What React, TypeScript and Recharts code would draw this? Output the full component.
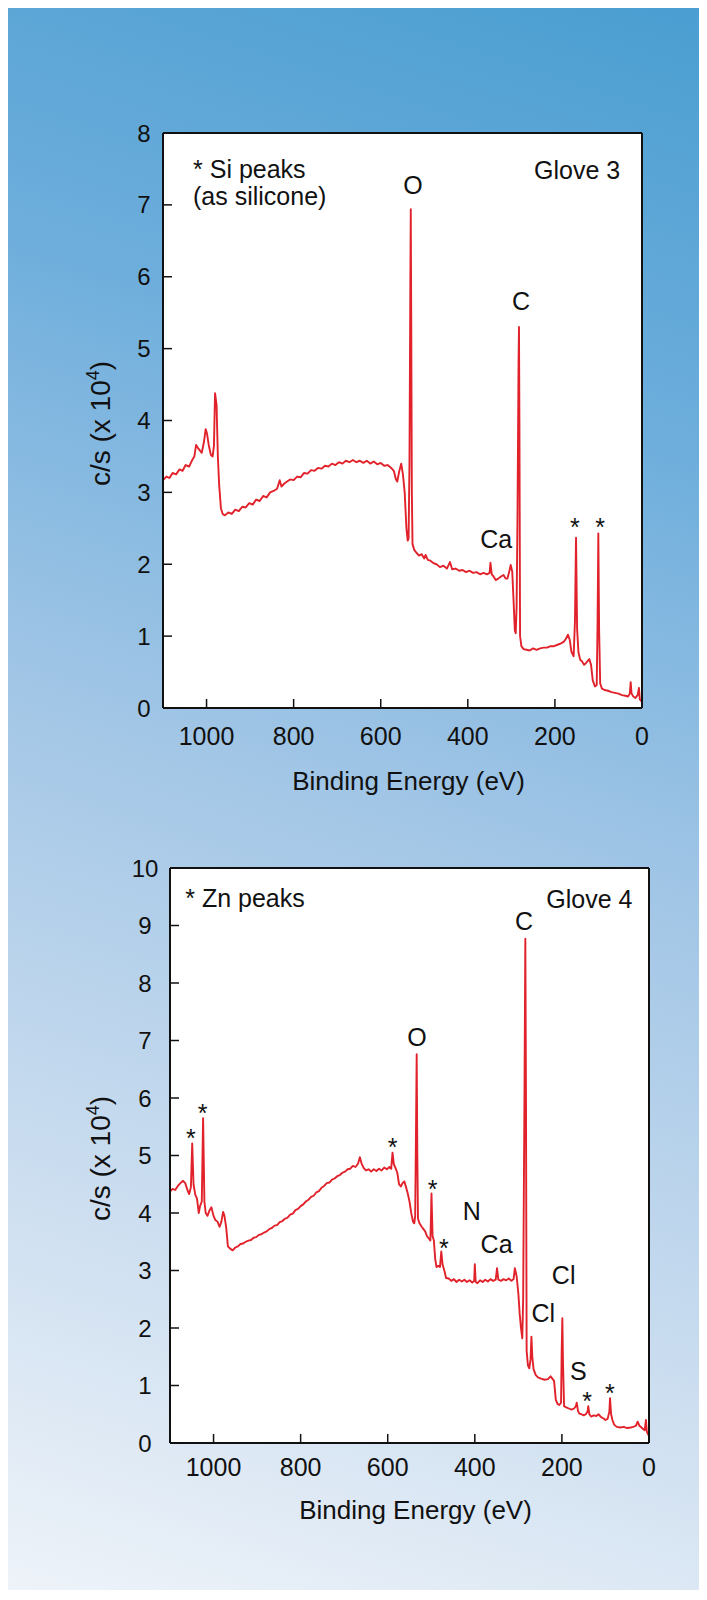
import React from "react";
import { CartesianGrid, Line, LineChart, ReferenceDot, XAxis, YAxis } from "recharts";

type Point = [number, number];
type Note = { text: string; e: number; v: number; anchor?: "start" | "middle" | "end" };

const FONT = '"Liberation Sans", Arial, Helvetica, sans-serif';
const INK = "#111";
const RED = "#e1222b";

const energyTicks = [0, 200, 400, 600, 800, 1000];
const glove3Ticks = [0, 1, 2, 3, 4, 5, 6, 7, 8];
const glove4Ticks = [0, 1, 2, 3, 4, 5, 6, 7, 8, 9, 10];

// [binding energy (eV), counts (x 10^4 c/s)]
const glove3Spectrum: Point[] = [
  [1100, 3.17], [1092, 3.22], [1085, 3.2], [1078, 3.27], [1070, 3.25], [1062, 3.32],
  [1055, 3.3], [1048, 3.38], [1040, 3.36], [1033, 3.45], [1028, 3.5], [1024, 3.66],
  [1020, 3.62], [1015, 3.58], [1011, 3.55], [1006, 3.7], [1002, 3.88], [999, 3.82],
  [995, 3.66], [990, 3.52], [986, 3.5], [983, 3.65], [980.5, 4.38], [977, 4.22],
  [974, 3.5], [971, 3.1], [967, 2.78], [963, 2.7], [958, 2.68], [950, 2.72],
  [942, 2.7], [934, 2.76], [926, 2.74], [918, 2.8], [910, 2.79], [902, 2.85],
  [894, 2.83], [886, 2.9], [878, 2.88], [870, 2.95], [862, 2.93], [854, 3.0],
  [846, 3.02], [838, 3.05], [832, 3.17], [828, 3.08], [822, 3.12], [815, 3.15],
  [808, 3.18], [800, 3.17], [792, 3.22], [784, 3.21], [776, 3.27], [768, 3.26],
  [760, 3.31], [752, 3.3], [744, 3.34], [736, 3.33], [728, 3.37], [720, 3.36],
  [712, 3.4], [704, 3.38], [696, 3.42], [688, 3.4], [680, 3.44], [672, 3.42],
  [664, 3.45], [656, 3.42], [648, 3.44], [640, 3.41], [632, 3.44], [624, 3.4],
  [616, 3.43], [608, 3.39], [600, 3.41], [592, 3.37], [584, 3.38], [576, 3.34],
  [570, 3.3], [565, 3.18], [562, 3.15], [558, 3.28], [553, 3.4], [549, 3.25],
  [545, 3.0], [541, 2.5], [538, 2.33], [536, 2.36], [534, 3.4], [532, 5.9],
  [531, 6.94], [530, 5.5], [528.5, 3.0], [527, 2.28], [523, 2.2], [518, 2.16],
  [512, 2.12], [506, 2.14], [500, 2.08], [497, 2.13], [492, 2.06], [486, 2.05],
  [480, 2.02], [472, 2.0], [464, 1.96], [456, 1.98], [448, 1.94], [441, 2.03],
  [436, 1.93], [428, 1.94], [420, 1.91], [412, 1.92], [404, 1.89], [396, 1.91],
  [388, 1.88], [380, 1.89], [372, 1.86], [364, 1.88], [356, 1.86], [350, 1.88],
  [348, 2.02], [345, 1.86], [341, 1.83], [336, 1.78], [330, 1.8], [324, 1.83],
  [318, 1.85], [313, 1.8], [309, 1.8], [304, 1.92], [301.5, 1.99], [298, 1.9],
  [295, 1.5], [292, 1.08], [290, 1.04], [288, 1.4], [286, 2.6], [283.5, 4.8],
  [282.5, 5.3], [281.5, 4.0], [280, 1.0], [277, 0.86], [272, 0.82], [265, 0.81],
  [258, 0.8], [250, 0.83], [242, 0.81], [234, 0.83], [226, 0.84], [218, 0.84],
  [210, 0.86], [202, 0.86], [194, 0.88], [186, 0.9], [180, 0.92], [175, 0.96],
  [170, 1.02], [166, 0.95], [162, 0.78], [157, 0.72], [154, 1.2], [151.5, 2.37],
  [149, 1.1], [146, 0.78], [142, 0.67], [138, 0.65], [133, 0.6], [128, 0.63],
  [121, 0.68], [117, 0.6], [113, 0.38], [108, 0.3], [104, 0.32], [102, 1.2],
  [100.3, 2.43], [98.5, 1.1], [96, 0.34], [92, 0.27], [86, 0.25], [78, 0.24],
  [70, 0.22], [62, 0.21], [54, 0.2], [46, 0.18], [38, 0.17], [32, 0.16],
  [28, 0.2], [26, 0.36], [24, 0.2], [20, 0.16], [15, 0.14], [10, 0.18],
  [7, 0.28], [5, 0.12], [2, 0.1], [0, 0.08],
];

const glove4Spectrum: Point[] = [
  [1100, 4.37], [1094, 4.42], [1088, 4.4], [1082, 4.47], [1076, 4.52], [1070, 4.56],
  [1065, 4.52], [1060, 4.4], [1056, 4.33], [1052, 4.45], [1049, 5.21], [1046, 4.5],
  [1042, 4.32], [1038, 4.25], [1034, 4.0], [1031, 4.12], [1027, 4.2], [1024, 5.65],
  [1021, 4.2], [1018, 4.0], [1014, 3.95], [1009, 4.05], [1005, 4.1], [1000, 3.95],
  [996, 3.88], [991, 3.85], [986, 3.76], [982, 3.85], [978, 4.02], [975, 3.95],
  [971, 3.75], [967, 3.42], [962, 3.38], [956, 3.35], [950, 3.4], [944, 3.42],
  [938, 3.46], [932, 3.47], [926, 3.5], [920, 3.52], [914, 3.53], [908, 3.57],
  [902, 3.58], [896, 3.62], [890, 3.63], [884, 3.66], [878, 3.68], [872, 3.72],
  [866, 3.74], [860, 3.78], [854, 3.79], [848, 3.84], [842, 3.86], [836, 3.9],
  [830, 3.92], [824, 3.97], [818, 3.99], [812, 4.05], [806, 4.07], [800, 4.12],
  [794, 4.15], [788, 4.2], [782, 4.23], [776, 4.28], [770, 4.3], [764, 4.36],
  [758, 4.38], [752, 4.44], [746, 4.47], [740, 4.52], [734, 4.53], [728, 4.58],
  [722, 4.6], [716, 4.64], [710, 4.66], [704, 4.7], [698, 4.72], [692, 4.76],
  [686, 4.77], [680, 4.82], [674, 4.8], [668, 4.86], [664, 4.97], [660, 4.86],
  [655, 4.78], [650, 4.74], [644, 4.76], [638, 4.72], [632, 4.76], [626, 4.73],
  [620, 4.77], [614, 4.74], [608, 4.79], [602, 4.76], [596, 4.8], [592, 4.77],
  [589, 5.05], [586, 4.85], [582, 4.78], [578, 4.7], [574, 4.5], [570, 4.46],
  [566, 4.52], [562, 4.55], [558, 4.45], [554, 4.34], [550, 4.2], [546, 4.0],
  [542, 3.85], [539, 3.82], [537, 3.95], [535, 5.5], [533.5, 6.76], [532, 5.0],
  [530.5, 3.9], [527, 3.82], [522, 3.76], [518, 3.72], [514, 3.68], [510, 3.6],
  [506, 3.56], [502, 3.52], [499.5, 4.34], [497, 3.6], [494, 3.52], [491, 3.2],
  [488, 3.06], [484, 3.08], [480, 3.06], [477, 3.33], [474, 3.1], [470, 3.0],
  [466, 2.87], [460, 2.86], [454, 2.82], [448, 2.85], [442, 2.8], [436, 2.84],
  [430, 2.81], [424, 2.84], [418, 2.8], [412, 2.83], [406, 2.79], [401.5, 2.82],
  [400, 3.11], [398, 2.8], [394, 2.78], [388, 2.83], [382, 2.8], [376, 2.84],
  [370, 2.81], [364, 2.85], [358, 2.82], [352, 2.84], [349, 3.04], [346, 2.84],
  [340, 2.82], [334, 2.85], [328, 2.83], [322, 2.86], [316, 2.82], [311, 2.85],
  [308, 3.04], [304, 2.9], [300, 2.6], [297, 2.25], [294, 2.0], [291, 1.82],
  [289, 2.5], [286, 6.0], [284, 8.77], [282.5, 6.0], [281, 1.6], [278, 1.35],
  [275, 1.3], [272, 1.45], [270, 1.85], [268, 1.5], [265, 1.28], [260, 1.18],
  [255, 1.14], [248, 1.12], [240, 1.1], [232, 1.11], [226, 1.16], [222, 1.12],
  [218, 1.08], [214, 0.75], [210, 0.68], [206, 0.66], [202, 0.7], [200.5, 1.6],
  [199, 2.17], [197.5, 1.4], [195, 0.64], [190, 0.62], [184, 0.6], [178, 0.58],
  [172, 0.6], [168, 0.64], [166, 0.7], [163, 0.56], [160, 0.51], [155, 0.5],
  [150, 0.48], [145, 0.5], [141, 0.55], [139.5, 0.64], [137, 0.5], [133, 0.46],
  [127, 0.48], [121, 0.47], [116, 0.5], [110, 0.45], [105, 0.43], [100, 0.4],
  [95, 0.42], [91, 0.55], [89.5, 0.78], [87, 0.5], [84, 0.4], [80, 0.32],
  [74, 0.28], [66, 0.27], [58, 0.28], [50, 0.26], [42, 0.27], [36, 0.28],
  [30, 0.3], [26, 0.37], [22, 0.3], [16, 0.26], [10, 0.22], [7, 0.4],
  [5, 0.2], [2, 0.15], [0, 0.12],
];

const glove3Notes: Note[] = [
  { text: "* Si peaks", e: 1031, v: 7.5, anchor: "start" },
  { text: "(as silicone)", e: 1031, v: 7.13, anchor: "start" },
  { text: "Glove 3", e: 50, v: 7.49, anchor: "end" },
  { text: "O", e: 526, v: 7.27 },
  { text: "C", e: 278, v: 5.66 },
  { text: "Ca", e: 335, v: 2.35 },
  { text: "*", e: 154, v: 2.6 },
  { text: "*", e: 96, v: 2.6 },
];

const glove4Notes: Note[] = [
  { text: "* Zn peaks", e: 1065, v: 9.47, anchor: "start" },
  { text: "Glove 4", e: 38, v: 9.46, anchor: "end" },
  { text: "C", e: 287, v: 9.07 },
  { text: "O", e: 533, v: 7.06 },
  { text: "N", e: 407, v: 4.04 },
  { text: "Ca", e: 350, v: 3.46 },
  { text: "Cl", e: 196, v: 2.92 },
  { text: "Cl", e: 243, v: 2.26 },
  { text: "S", e: 162, v: 1.26 },
  { text: "*", e: 1052, v: 5.4 },
  { text: "*", e: 1025, v: 5.83 },
  { text: "*", e: 589, v: 5.25 },
  { text: "*", e: 497, v: 4.52 },
  { text: "*", e: 471, v: 3.49 },
  { text: "*", e: 142, v: 0.82 },
  { text: "*", e: 90, v: 0.97 },
];

const noteShape = (note: Note) => (p: any) => (
  <text
    x={p.cx}
    y={p.cy}
    dy={note.text === "*" ? "0.58em" : "0.36em"}
    textAnchor={note.anchor ?? "middle"}
    fontSize={25}
    fontFamily={FONT}
    fill={INK}
  >
    {note.text}
  </text>
);

interface SpectrumProps {
  spectrum: Point[];
  notes: Note[];
  yMax: number;
  yTicks: number[];
  height: number;
  margin: { top: number; right: number; bottom: number; left: number };
  xTickMargin: number;
  yTickMargin: number;
  xTitleDy: number;
  yTitleDx: number;
}

const Spectrum = ({
  spectrum,
  notes,
  yMax,
  yTicks,
  height,
  margin,
  xTickMargin,
  yTickMargin,
  xTitleDy,
  yTitleDx,
}: SpectrumProps) => {
  const data = spectrum.map(([e, v]) => ({ e, v }));
  const axisLine = { stroke: INK, strokeWidth: 2 };
  const tickLine = { stroke: INK, strokeWidth: 1.5 };

  return (
    <LineChart width={699} height={height} data={data} margin={margin}>
      <CartesianGrid horizontal={false} vertical={false} fill="#fff" fillOpacity={1} stroke="none" />
      <Line
        type="linear"
        dataKey="v"
        stroke={RED}
        strokeWidth={1.9}
        strokeLinejoin="round"
        dot={false}
        isAnimationActive={false}
      />
      {notes.map((n, i) => (
        <ReferenceDot key={i} x={n.e} y={n.v} r={0} shape={noteShape(n)} />
      ))}
      <XAxis
        dataKey="e"
        type="number"
        domain={[0, 1100]}
        reversed
        allowDataOverflow
        ticks={energyTicks}
        height={60}
        axisLine={axisLine}
        tickLine={tickLine}
        tickSize={-9}
        tickMargin={xTickMargin}
        tick={{ fontSize: 25, fontFamily: FONT, fill: INK }}
        label={{
          content: (p: any) => (
            <text
              x={p.viewBox.x + p.viewBox.width / 2 + 6}
              y={p.viewBox.y + xTitleDy}
              textAnchor="middle"
              fontSize={26}
              fontFamily={FONT}
              fill={INK}
            >
              Binding Energy (eV)
            </text>
          ),
        }}
      />
      <XAxis
        xAxisId="top"
        orientation="top"
        dataKey="e"
        type="number"
        domain={[0, 1100]}
        reversed
        allowDataOverflow
        ticks={energyTicks}
        height={5}
        axisLine={axisLine}
        tickLine={tickLine}
        tickSize={-9}
        tick={false}
      />
      <YAxis
        type="number"
        domain={[0, yMax]}
        ticks={yTicks}
        width={100}
        axisLine={axisLine}
        tickLine={tickLine}
        tickSize={-9}
        tickMargin={yTickMargin}
        tick={{ fontSize: 24, fontFamily: FONT, fill: INK, textAnchor: "middle" }}
        label={{
          content: (p: any) => {
            const cx = p.viewBox.x + yTitleDx;
            const cy = p.viewBox.y + p.viewBox.height / 2 + 3;
            return (
              <text
                x={cx}
                y={cy}
                transform={`rotate(-90 ${cx} ${cy})`}
                textAnchor="middle"
                dy="0.36em"
                fontSize={28}
                fontFamily={FONT}
                fill={INK}
              >
                c/s (x 10
                <tspan dy={-11} fontSize={18}>
                  4
                </tspan>
                <tspan dy={11}>)</tspan>
              </text>
            );
          },
        }}
      />
      <YAxis
        yAxisId="right"
        orientation="right"
        type="number"
        domain={[0, yMax]}
        ticks={yTicks}
        width={5}
        axisLine={axisLine}
        tickLine={tickLine}
        tickSize={-9}
        tick={false}
      />
    </LineChart>
  );
};

export default function App() {
  return (
    <div
      style={{
        position: "relative",
        width: 699,
        height: 1582,
        background:
          "linear-gradient(198deg, #4a9ed1 0%, #6eaedc 25%, #a2c6e6 50%, #c9dcef 75%, #eef3f9 100%)",
        fontFamily: FONT,
      }}
    >
      <div style={{ position: "absolute", left: 0, top: 0 }}>
        <Spectrum
          spectrum={glove3Spectrum}
          notes={glove3Notes}
          yMax={8}
          yTicks={glove3Ticks}
          height={790}
          margin={{ top: 120, right: 60, bottom: 30, left: 55 }}
          xTickMargin={28}
          yTickMargin={28}
          xTitleDy={82}
          yTitleDx={37}
        />
      </div>
      <div style={{ position: "absolute", left: 0, top: 790 }}>
        <Spectrum
          spectrum={glove4Spectrum}
          notes={glove4Notes}
          yMax={10}
          yTicks={glove4Ticks}
          height={790}
          margin={{ top: 65, right: 53, bottom: 85, left: 62 }}
          xTickMargin={24}
          yTickMargin={34}
          xTitleDy={76}
          yTitleDx={30}
        />
      </div>
    </div>
  );
}
